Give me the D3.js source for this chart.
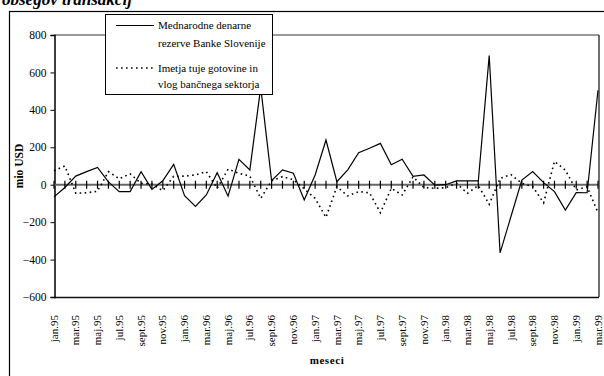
<!DOCTYPE html>
<html><head><meta charset="utf-8">
<script src="https://cdn.jsdelivr.net/npm/d3@7"></script>
<style>body{margin:0;background:#fff}svg{display:block}text{font-family:"Liberation Serif","Times New Roman",serif;fill:#000}</style>
</head><body><svg id="c" width="604" height="376"></svg>
<script>
const months = ["jan.95","feb.95","mar.95","apr.95","maj.95","jun.95","jul.95","avg.95","sept.95","okt.95","nov.95","dec.95",
"jan.96","feb.96","mar.96","apr.96","maj.96","jun.96","jul.96","avg.96","sept.96","okt.96","nov.96","dec.96",
"jan.97","feb.97","mar.97","apr.97","maj.97","jun.97","jul.97","avg.97","sept.97","okt.97","nov.97","dec.97",
"jan.98","feb.98","mar.98","apr.98","maj.98","jun.98","jul.98","avg.98","sept.98","okt.98","nov.98","dec.98",
"jan.99","feb.99","mar.99"];
const reserves = [-65,-15,46,70,92,15,-37,-37,70,-25,21,109,
-59,-116,-55,64,-61,136,79,520,21,79,61,-82,
52,239,16,79,171,195,221,107,136,45,52,-2,
0,20,20,20,690,-364,-170,25,70,11,-37,-135,
-42,-43,505];
const holdings = [75,100,-45,-43,-35,70,32,58,7,4,-32,45,
46,52,70,-19,83,61,46,-73,21,43,27,-22,
-73,-175,-10,-60,-37,-43,-150,-19,-55,42,-15,-19,
-16,7,-46,-4,-105,34,54,7,-10,-97,125,78,
-28,-11,-150];
const yTicks = [800,600,400,200,0,-200,-400,-600];
const seriesNames = [["Mednarodne denarne","rezerve Banke Slovenije"],["Imetja tuje gotovine in","vlog bančnega sektorja"]];
const title = "obsegov transakcij";

const svg = d3.select("#c");
const x = d3.scalePoint().domain(d3.range(months.length)).range([54,598]);
const y = d3.scaleLinear().domain([-600,800]).range([297,35]);

// outer frame (partially off-canvas)
svg.append("rect").attr("x",9.5).attr("y",11.5).attr("width",620).attr("height",400)
  .attr("fill","none").attr("stroke","#000").attr("stroke-width",1.2);
// title, clipped by the top edge as in the reference
svg.append("text").attr("x",2).attr("y",5).attr("font-size",17).attr("font-weight","bold")
  .attr("font-style","italic").text(title);

// plot area border
svg.append("line").attr("x1",54).attr("x2",599).attr("y1",y(800)).attr("y2",y(800)).attr("stroke","#777").attr("stroke-width",1.5);
svg.append("line").attr("x1",599).attr("x2",599).attr("y1",y(800)).attr("y2",y(-600)).attr("stroke","#222").attr("stroke-width",1.3);
svg.append("line").attr("x1",54).attr("x2",599).attr("y1",y(-600)+0.5).attr("y2",y(-600)+0.5).attr("stroke","#111").attr("stroke-width",1.5);

// y axis
const ya = svg.append("g").attr("transform","translate(54.5,0)")
  .call(d3.axisLeft(y).tickValues(yTicks).tickSize(4).tickPadding(4).tickFormat(d3.format("d")));
ya.attr("font-family",null);
ya.select(".domain").attr("stroke","#000").attr("stroke-width",1.5);
ya.selectAll("line").attr("stroke","#000");
ya.selectAll("text").attr("font-size",11.5);

// zero line with ticks
svg.append("line").attr("x1",54).attr("x2",599).attr("y1",y(0)).attr("y2",y(0)).attr("stroke","#666").attr("stroke-width",2);
svg.append("g").selectAll("line").data(d3.range(months.length)).join("line")
  .attr("x1",d=>x(d)).attr("x2",d=>x(d)).attr("y1",y(0)-4).attr("y2",y(0)+4)
  .attr("stroke","#000").attr("stroke-width",1.2);

// x labels
svg.append("g").selectAll("text").data(d3.range(0,months.length,2)).join("text")
  .attr("transform",d=>`translate(${x(d)},315) rotate(-90)`)
  .attr("text-anchor","end").attr("dy","0.33em").attr("font-size",11).text(d=>months[d]);

// lines
const line = d3.line().x((d,i)=>x(i)).y(d=>y(d));
svg.append("path").datum(holdings).attr("d",line).attr("fill","none").attr("stroke","#000")
  .attr("stroke-width",1.6).attr("stroke-dasharray","1.6,3.4");
svg.append("path").datum(reserves).attr("d",line).attr("fill","none").attr("stroke","#000").attr("stroke-width",1.2);

// axis titles
svg.append("text").attr("transform","translate(23,166) rotate(-90)").attr("text-anchor","middle")
  .attr("font-size",11.5).attr("font-weight","bold").text("mio USD");
svg.append("text").attr("x",327).attr("y",364).attr("text-anchor","middle")
  .attr("font-size",11).attr("font-weight","bold").attr("letter-spacing",0.6).text("meseci");

// legend
const lg = svg.append("g");
lg.append("rect").attr("x",105.5).attr("y",14.5).attr("width",167).attr("height",80)
  .attr("fill","#fff").attr("stroke","#000").attr("stroke-width",1);
lg.append("line").attr("x1",116).attr("x2",154).attr("y1",25.5).attr("y2",25.5).attr("stroke","#000").attr("stroke-width",1.2);
lg.append("line").attr("x1",116).attr("x2",154).attr("y1",68).attr("y2",68).attr("stroke","#000").attr("stroke-width",1.6).attr("stroke-dasharray","1.6,3.4");
[[seriesNames[0][0],29],[seriesNames[0][1],46.5],[seriesNames[1][0],71.5],[seriesNames[1][1],88]].forEach(([t,yy])=>{
  lg.append("text").attr("x",158).attr("y",yy).attr("font-size",11).text(t);
});
</script></body></html>
